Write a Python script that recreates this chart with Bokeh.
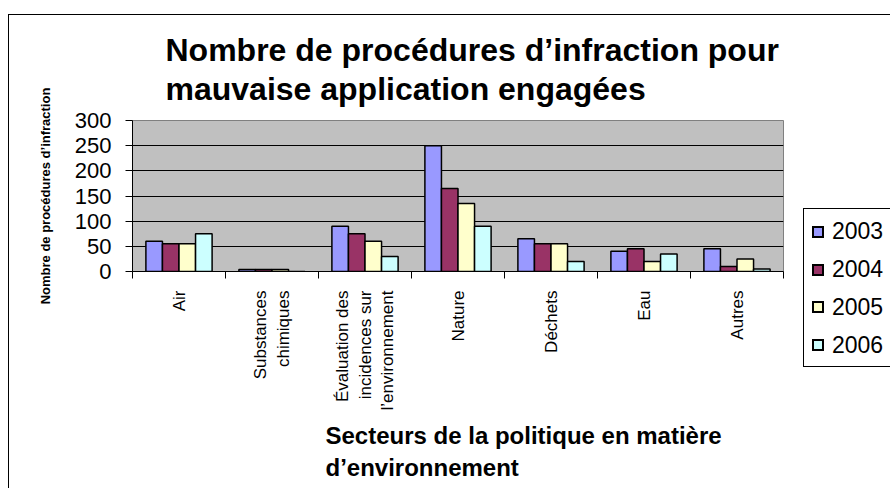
import math
from bokeh.plotting import figure
from bokeh.layouts import row
from bokeh.models import Range1d, FixedTicker, Title, Div
from bokeh.embed import file_html
from bokeh.resources import INLINE

# ---------------- data ----------------
categories = ["Air", "Substances\nchimiques",
              "Évaluation des\nincidences sur\nl’environnement",
              "Nature", "Déchets", "Eau", "Autres"]
years = ["2003", "2004", "2005", "2006"]
v2003 = [60, 4, 90, 250, 65, 40, 45]
v2004 = [55, 4, 75, 165, 55, 45, 10]
v2005 = [55, 4, 60, 135, 55, 20, 25]
v2006 = [75, 0, 30, 90, 20, 35, 5]
y_ticks = [0, 50, 100, 150, 200, 250, 300]
title_text = "Nombre de procédures d’infraction pour\nmauvaise application engagées"
y_title = "Nombre de procédures d’infraction"
x_title = "Secteurs de la politique en matière\nd’environnement"

# ---------------- style ----------------
colors = ["#9999FF", "#993366", "#FFFFCC", "#CCFFFF"]
SANS = "Liberation Sans"

H = 473
W1, W2 = 784, 97
PL, PR, PT, PB = 132, 783, 120, 271   # frame in page pixels
CX, CY = 9, 15                         # canvas origin in page pixels
LEG_L, LEG_T, LEG_B = 803, 208, 367    # legend box in page pixels

p = figure(width=W1, height=H, x_range=Range1d(0, 7), y_range=Range1d(0, 300),
           output_backend="svg", toolbar_location=None,
           min_border_left=PL - CX, min_border_right=W1 - (PR - CX),
           min_border_top=PT - CY, min_border_bottom=H - (PB - CY),
           background_fill_color="#C0C0C0", border_fill_color="white",
           outline_line_color="#808080", outline_line_width=1)

series = [v2003, v2004, v2005, v2006]
offsets = [-0.267, -0.089, 0.089, 0.267]
xs = [i + 0.5 for i in range(len(categories))]
for k, (vals, col) in enumerate(zip(series, colors)):
    p.vbar(x=[x + offsets[k] for x in xs], top=vals, width=0.178,
           fill_color=col, line_color="black", line_width=1.5)

# title
p.title.text = title_text
p.title.align = "left"
p.title.offset = 33
p.title.text_font = SANS
p.title.text_font_size = "32px"
p.title.text_font_style = "bold"
p.title.text_line_height = 1.1
p.title.text_color = "black"
p.title.standoff = 26

# y axis
yax = p.yaxis[0]
yax.ticker = FixedTicker(ticks=y_ticks)
yax.major_label_text_font = SANS
yax.major_label_text_font_size = "22px"
yax.major_label_text_color = "black"
yax.major_tick_out = 7
yax.major_tick_in = 0
yax.minor_tick_out = 0
yax.minor_tick_in = 0
yax.major_label_standoff = 14
yax.axis_line_color = "black"
yax.major_tick_line_color = "black"
yax.axis_label = y_title
yax.axis_label_text_font = SANS
yax.axis_label_text_font_size = "13px"
yax.axis_label_text_font_style = "bold"
yax.axis_label_text_color = "black"
yax.axis_label_standoff = 19

# x axis: labels at category centres, tick marks at category boundaries
xax = p.xaxis[0]
xax.ticker = FixedTicker(ticks=xs, minor_ticks=list(range(len(categories) + 1)))
xax.major_label_overrides = {x: c for x, c in zip(xs, categories)}
xax.major_label_orientation = math.pi / 2
xax.major_label_text_font = SANS
xax.major_label_text_font_size = "17px"
xax.major_label_text_color = "black"
xax.major_label_standoff = 12
xax.major_tick_out = 0
xax.major_tick_in = 0
xax.minor_tick_out = 7
xax.minor_tick_in = 0
xax.minor_tick_line_color = "black"
xax.axis_line_color = "black"

xt = Title(text=x_title, align="left", offset=325 - PL, text_font=SANS,
           text_font_size="24px", text_font_style="bold", text_line_height=1.2,
           text_color="black", standoff=13)
p.add_layout(xt, "below")

p.xgrid.visible = False
p.ygrid.ticker = FixedTicker(ticks=y_ticks[1:-1])
p.ygrid.grid_line_color = "black"
p.ygrid.grid_line_width = 1

# legend box (HTML) on the right of the plot
item_h = (LEG_B - LEG_T - 8) / len(years)
items_html = "".join(
    f'<div style="height:{item_h:.2f}px;display:flex;align-items:center;white-space:nowrap;">'
    f'<span style="display:inline-block;width:12px;height:12px;border:2px solid #000;'
    f'background:{col};margin:0 8px 0 8px;"></span>'
    f'<span style="font-family:\'{SANS}\';font-size:23px;color:#000;">{yr}</span></div>'
    for yr, col in zip(years, colors)
)
legend_html = (
    f'<div style="margin:{LEG_T - CY}px 0 0 {LEG_L - (CX + W1)}px;width:140px;'
    f'height:{LEG_B - LEG_T}px;box-sizing:border-box;border:1px solid #000;'
    f'background:#fff;padding-top:4px;">{items_html}</div>'
)
legend_div = Div(text=legend_html, width=W2, height=H, margin=(0, 0, 0, 0),
                 styles={"overflow": "hidden"})

layout = row(p, legend_div, spacing=0)
layout.margin = (14, 0, 0, 8)
layout.styles = {"border-top": "1px solid black", "border-left": "1px solid black"}

open("out.html", "w").write(file_html(layout, INLINE))
